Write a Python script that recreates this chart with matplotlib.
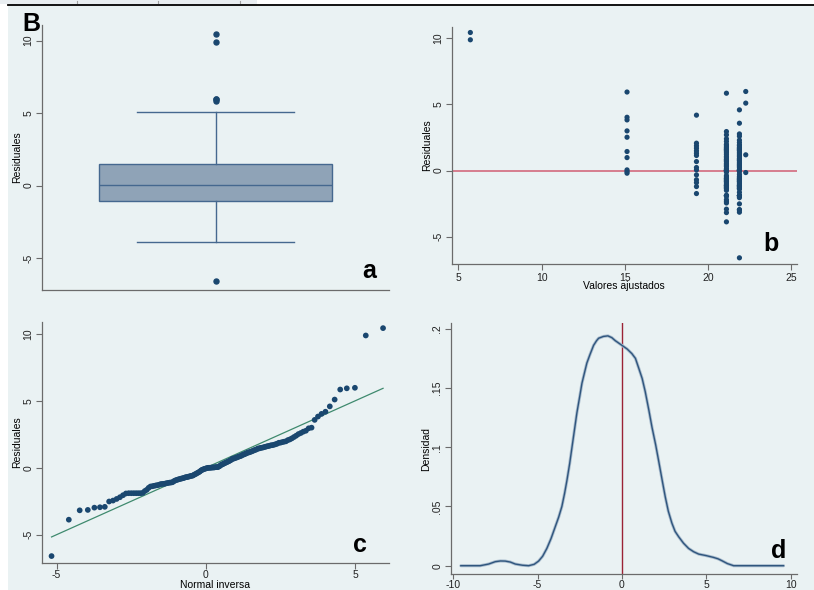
import numpy as np
import matplotlib
matplotlib.use("Agg")
import matplotlib.pyplot as plt
from matplotlib.patches import Rectangle
from matplotlib.lines import Line2D
from statistics import NormalDist, mean, stdev

plt.rcParams["font.family"] = ["Liberation Sans", "DejaVu Sans"]
plt.rcParams["axes.unicode_minus"] = False

# ---- residuals grouped by fitted value ----
fitted_levels = [5.72, 15.13, 19.30, 21.10, 21.88, 22.26]
resid_5 = [10.44, 9.89]
resid_15 = [5.94, 4.03, 3.83, 3.00, 2.52, 1.44, 0.98, 0.05, -0.08, -0.20]
resid_19 = [4.19, 2.07, 1.87, 1.69, 1.49, 1.31, 1.14, 0.68, 0.23, 0.05,
            -0.33, -0.70, -0.91, -1.21, -1.74]
resid_21a = [-3.88, -3.18, -2.92, -2.45, -2.33, -2.20, -1.92, -1.90, -1.90, -1.88,
             -1.50, -1.38, -1.32, -1.27, -1.20, -1.15, -1.11, -1.08, -0.95, -0.85,
             -0.80, -0.75, -0.67, -0.62, -0.58, -0.48, -0.38, -0.12, -0.03, 0.00,
             0.01, 0.02, 0.05, 0.15, 0.30, 0.38, 0.46, 0.55, 0.68, 0.75,
             0.82, 0.88, 1.00, 1.08, 1.22, 1.34, 1.45, 1.53, 1.59, 1.64,
             1.72, 1.80, 1.92, 1.98, 2.20, 2.40, 2.70, 2.95, 5.85]
resid_21b = [-6.60, -3.15, -2.98, -2.95, -2.52, -2.05, -1.90, -1.90, -1.90, -1.90,
             -1.65, -1.40, -1.35, -1.30, -1.22, -1.18, -1.13, -1.10, -1.00, -0.88,
             -0.82, -0.77, -0.70, -0.65, -0.60, -0.52, -0.43, -0.28, -0.06, -0.01,
             0.00, 0.02, 0.03, 0.10, 0.25, 0.34, 0.42, 0.50, 0.60, 0.72,
             0.78, 0.85, 0.92, 1.05, 1.15, 1.26, 1.38, 1.50, 1.56, 1.62,
             1.68, 1.76, 1.88, 1.95, 2.12, 2.30, 2.60, 2.77, 3.58, 4.59]
resid_22 = [5.98, 5.10, 1.19, -0.15]
resid_groups = [resid_5, resid_15, resid_19, resid_21a, resid_21b, resid_22]

# ---- kernel density of the residuals (panel d) ----
dens_x = [-9.55, -8.40, -7.90, -7.51, -7.20, -6.92, -6.62, -6.32, -5.90, -5.53,
          -5.20, -4.94, -4.70, -4.45, -4.20, -3.95, -3.75, -3.56, -3.40, -3.26,
          -3.10, -2.96, -2.80, -2.67, -2.50, -2.37, -2.20, -2.08, -1.90, -1.68,
          -1.50, -1.38, -1.10, -0.83, -0.60, -0.40, -0.20, 0.00, 0.30, 0.59,
          0.80, 0.99, 1.20, 1.38, 1.60, 1.78, 2.00, 2.17, 2.40, 2.57,
          2.75, 2.96, 3.15, 3.36, 3.65, 3.95, 4.25, 4.55, 5.00, 5.43,
          5.70, 5.93, 6.25, 6.62, 9.58]
dens_y = [0.0, 0.0, 0.0014, 0.0034, 0.0040, 0.0039, 0.0031, 0.0014, 0.0004, 0.0,
          0.0012, 0.0039, 0.0080, 0.0146, 0.0230, 0.033, 0.041, 0.050, 0.061, 0.072,
          0.086, 0.100, 0.116, 0.129, 0.143, 0.154, 0.164, 0.171, 0.178, 0.186,
          0.190, 0.192, 0.1935, 0.194, 0.1925, 0.190, 0.188, 0.186, 0.183, 0.179,
          0.175, 0.167, 0.158, 0.147, 0.131, 0.117, 0.102, 0.089, 0.071, 0.058,
          0.046, 0.036, 0.029, 0.0245, 0.019, 0.0146, 0.0118, 0.0098, 0.0085, 0.0070,
          0.0058, 0.0042, 0.0018, 0.0, 0.0]

dens_ticks = [0, 0.05, 0.1, 0.15, 0.2]
dens_tick_labels = ["0", ".05", ".1", ".15", ".2"]

BG = "#eaf2f3"
NAVY = "#1a476f"
AXC = "#6b6b6b"
FS = 7.5

W, H = 814, 590
fig = plt.figure(figsize=(W / 100, H / 100), dpi=100, facecolor="white")


def fx(px):
    return px / W


def fy(py):
    return 1 - py / H


# graph background, top strip and separator line
fig.patches.append(Rectangle((fx(8), 0), 1 - fx(8), fy(6), transform=fig.transFigure,
                             facecolor=BG, edgecolor="none", zorder=-10))
fig.patches.append(Rectangle((0, fy(4)), fx(257), 1 - fy(4), transform=fig.transFigure,
                             facecolor="#e9eef1", edgecolor="none", zorder=-10))
for tx in (77, 158, 240):
    fig.lines.append(Line2D([fx(tx), fx(tx)], [fy(3), fy(1)], transform=fig.transFigure,
                            color="#a0a0a0", lw=0.8))
fig.lines.append(Line2D([fx(8), 1], [fy(5), fy(5)], transform=fig.transFigure,
                        color="black", lw=1.3))


def make_ax(left, top, right, bottom):
    ax = fig.add_axes([fx(left), fy(bottom), fx(right) - fx(left), fy(top) - fy(bottom)])
    ax.set_facecolor(BG)
    for s in ("top", "right"):
        ax.spines[s].set_visible(False)
    for s in ("left", "bottom"):
        ax.spines[s].set_color(AXC)
        ax.spines[s].set_linewidth(0.9)
    ax.tick_params(direction="out", length=4, width=0.8, color=AXC,
                   labelsize=FS, labelcolor="#222222", pad=2)
    return ax


def rotate_y(ax):
    for lab in ax.get_yticklabels():
        lab.set_rotation(90)
        lab.set_va("center")


all_resid = np.concatenate([np.array(g, dtype=float) for g in resid_groups])

# ---- a: box plot ----
axa = make_ax(42, 25, 389, 290)
edge = "#45688f"
axa.boxplot(all_resid, positions=[0.5], widths=0.674, patch_artist=True,
            whis=1.5, capwidths=0.455,
            boxprops=dict(facecolor="#8fa3b7", edgecolor=edge, linewidth=1.0),
            medianprops=dict(color=edge, linewidth=1.0),
            whiskerprops=dict(color=edge, linewidth=1.0),
            capprops=dict(color=edge, linewidth=1.0),
            flierprops=dict(marker="o", markersize=3.6, markerfacecolor=NAVY,
                            markeredgecolor=NAVY))
axa.set_xlim(0, 1)
axa.set_ylim(-7.21, 11.08)
axa.set_xticks([])
axa.set_yticks([-5, 0, 5, 10])
rotate_y(axa)
axa.set_ylabel("Residuales", fontsize=FS, labelpad=1)

# ---- b: residuals vs fitted ----
axb = make_ax(451.7, 26.7, 796.7, 264.3)
axb.axhline(0, color="#d47486", lw=1.3, zorder=1)
for fv, g in zip(fitted_levels, resid_groups):
    axb.scatter(np.full(len(g), fv), g, s=14, color=NAVY, edgecolors="none", zorder=3)
axb.set_xlim(4.6, 25.32)
axb.set_ylim(-7.09, 10.88)
axb.set_xticks([5, 10, 15, 20, 25])
axb.set_yticks([-5, 0, 5, 10])
rotate_y(axb)
axb.set_ylabel("Residuales", fontsize=FS, labelpad=1)
axb.set_xlabel("Valores ajustados", fontsize=FS, labelpad=-1)

# ---- c: normal quantile plot ----
axc = make_ax(41.7, 321.7, 389.3, 563.3)
ys = np.sort(all_resid)
n = len(ys)
nd = NormalDist(mean(ys.tolist()), stdev(ys.tolist()))
qx = np.array([nd.inv_cdf(i / (n + 1)) for i in range(1, n + 1)])
axc.plot([qx[0], qx[-1]], [qx[0], qx[-1]], color="#3f8a6e", lw=0.9, zorder=2)
axc.scatter(qx, ys, s=17, color=NAVY, edgecolors="none", zorder=3)
axc.set_xlim(-5.5, 6.15)
axc.set_ylim(-7.14, 10.92)
axc.set_xticks([-5, 0, 5])
axc.set_yticks([-5, 0, 5, 10])
rotate_y(axc)
axc.tick_params(axis="x", pad=1)
axc.set_ylabel("Residuales", fontsize=FS, labelpad=1)
axc.set_xlabel("Normal inversa", fontsize=FS, labelpad=-0.5)

# ---- d: kernel density ----
axd = make_ax(450.7, 323.3, 796.7, 574)
axd.axvline(0, color="#9b2335", lw=1.0, zorder=1)
axd.plot(dens_x, dens_y, color="#a9bccd", lw=2.2, zorder=2, solid_capstyle="round")
axd.plot(dens_x, dens_y, color="#2f557d", lw=1.0, zorder=3)
axd.set_xlim(-10.15, 10.36)
axd.set_ylim(-0.007, 0.2046)
axd.set_xticks([-10, -5, 0, 5, 10])
axd.set_yticks(dens_ticks)
axd.set_yticklabels(dens_tick_labels)
rotate_y(axd)
axd.tick_params(axis="x", pad=0.5, length=3.5)
axd.set_ylabel("Densidad", fontsize=FS, labelpad=1)

# ---- panel letters ----
for txt, px, py in (("B", 22, 31), ("a", 362, 278), ("b", 763, 251),
                    ("c", 353, 552), ("d", 771, 558)):
    fig.text(fx(px), fy(py), txt, fontsize=18, fontweight="bold", color="black",
             ha="left", va="baseline")

fig.savefig("out.png", dpi=100, facecolor="white")
